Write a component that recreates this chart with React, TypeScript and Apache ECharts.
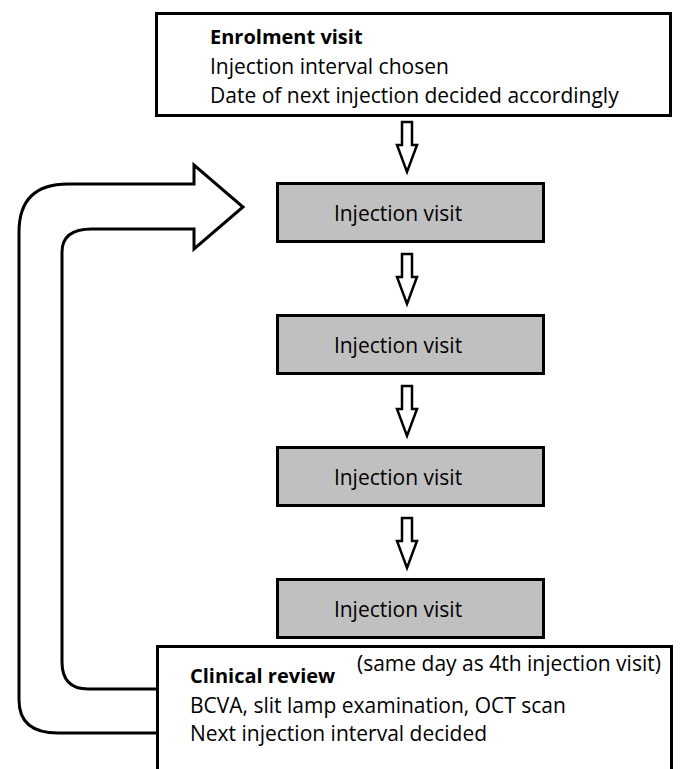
import React, { useEffect, useRef } from "react";
import * as echarts from "echarts";

// ---- Content of the flow diagram ----
const enrolmentTitle = "Enrolment visit";
const enrolmentLines = ["Injection interval chosen", "Date of next injection decided accordingly"];
const injectionSteps = ["Injection visit", "Injection visit", "Injection visit", "Injection visit"];
const reviewTitle = "Clinical review";
const reviewNote = "(same day as 4th injection visit)";
const reviewLines = ["BCVA, slit lamp examination, OCT scan", "Next injection interval decided"];

const FONT_FAMILY = "'Open Sans', 'Noto Sans', sans-serif";
const FONT_SIZE = 21;
const BOLD_SIZE = 20;

const LOOP_PATH =
  "M156 689 L88 689 Q62 689 62 662 L62 252 Q62 229 92 229 L194 229 L194 249 L243 207 L194 165 L194 184 L68 184 Q19 184 19 232 L19 700 Q19 733 58 733 L156 733";

echarts.graphic.registerShape("loopArrow", echarts.graphic.extendPath(LOOP_PATH, {}));

function textEl(text: string, x: number, y: number, bold = false, align = "left") {
  return {
    type: "text",
    x,
    y,
    z: 10,
    style: {
      text,
      fill: "#000",
      font: bold ? `bold ${BOLD_SIZE}px ${FONT_FAMILY}` : `${FONT_SIZE}px ${FONT_FAMILY}`,
      textAlign: align,
      textVerticalAlign: "middle",
      align,
      verticalAlign: "middle",
    },
  };
}

function downArrow(cx: number, y0: number) {
  const len = 50;
  const head = 23;
  const sh = 5;
  const hh = 10;
  return {
    type: "polygon",
    z: 5,
    shape: {
      points: [
        [cx - sh, y0],
        [cx + sh, y0],
        [cx + sh, y0 + head],
        [cx + hh, y0 + head],
        [cx, y0 + len],
        [cx - hh, y0 + head],
        [cx - sh, y0 + head],
      ],
    },
    style: { fill: "#fff", stroke: "#000", lineWidth: 2.5, lineJoin: "miter" },
  };
}

export default function App() {
  const ref = useRef<HTMLDivElement>(null);

  useEffect(() => {
    if (!ref.current) return;
    const chart = echarts.init(ref.current, undefined, { renderer: "svg" });

    const elements: any[] = [];

    // Enrolment box
    elements.push({
      type: "rect",
      z: 2,
      shape: { x: 156.5, y: 13.5, width: 514, height: 102 },
      style: { fill: "#fff", stroke: "#000", lineWidth: 3 },
    });
    elements.push(textEl(enrolmentTitle, 210, 36, true));
    enrolmentLines.forEach((t, i) => elements.push(textEl(t, 210, 65.5 + i * 29.5)));

    // Injection steps with arrows
    const step = 132;
    injectionSteps.forEach((label, k) => {
      elements.push(downArrow(407, 122 + k * step));
      elements.push({
        type: "rect",
        z: 2,
        shape: { x: 277.5, y: 183.5 + k * step, width: 266, height: 58 },
        style: { fill: "#c0c0c0", stroke: "#000", lineWidth: 3 },
      });
      elements.push(textEl(label, 398, 212.5 + k * step, false, "center"));
    });

    // Clinical review box
    elements.push({
      type: "rect",
      z: 2,
      shape: { x: 157.5, y: 646.5, width: 514, height: 200 },
      style: { fill: "#fff", stroke: "#000", lineWidth: 3 },
    });
    elements.push(textEl(reviewTitle, 190, 675.5, true));
    elements.push(textEl(reviewNote, 357, 662.5));
    reviewLines.forEach((t, i) => elements.push(textEl(t, 190, 704.5 + i * 28.5)));

    // Loop arrow back to injection visits
    elements.push({
      type: "loopArrow",
      x: 0,
      y: 0,
      z: 3,
      style: { fill: "none", stroke: "#000", lineWidth: 3, lineJoin: "miter" },
    });

    chart.setOption({
      animation: false,
      backgroundColor: "#fff",
      graphic: { elements },
    });

    return () => chart.dispose();
  }, []);

  return (
    <div
      ref={ref}
      style={{ position: "fixed", left: 0, top: 0, width: 680, height: 769, background: "#fff" }}
    />
  );
}
